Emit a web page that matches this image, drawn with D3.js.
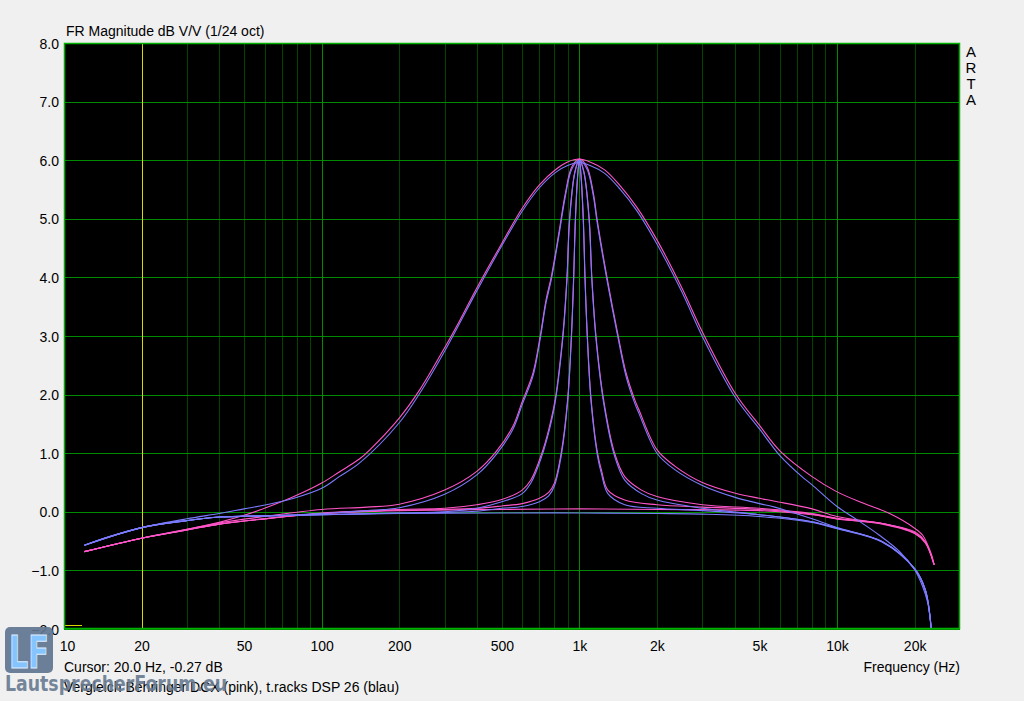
<!DOCTYPE html>
<html>
<head>
<meta charset="utf-8">
<script src="https://cdn.jsdelivr.net/npm/d3@7/dist/d3.min.js"></script>
<style>
  body { margin: 0; background: #f0f0f0; }
  svg { display: block; }
  text { font-family: "Liberation Sans", Arial, sans-serif; }
</style>
</head>
<body>
<svg id="svg"></svg>
<script>
var larghezza = 1024;
var altezza = 701;

// frequency axis
var tickFreqs = [10, 20, 50, 100, 200, 500, 1000, 2000, 5000, 10000, 20000];
var tickNames = ["10", "20", "50", "100", "200", "500", "1k", "2k", "5k", "10k", "20k"];
var dbTicks = [-2, -1, 0, 1, 2, 3, 4, 5, 6, 7, 8];

// wide peak (pink = Behringer DCX, blue = t.racks DSP 26)
var fPinkA = [12, 15, 20, 30, 40, 50, 60, 78, 100, 117, 140, 153, 200, 240, 300, 344, 400, 500, 600, 700, 814, 900, 1000, 1100, 1250, 1430, 1670, 2000, 2500, 3017, 4030, 5010, 6000, 8000, 10000, 12600, 16000, 20000, 21500, 22500, 23300, 23800];
var dbPinkA = [-0.68, -0.58, -0.45, -0.30, -0.18, -0.06, 0.06, 0.26, 0.49, 0.68, 0.90, 1.05, 1.60, 2.08, 2.80, 3.27, 3.82, 4.58, 5.18, 5.58, 5.85, 5.97, 6.02, 5.97, 5.84, 5.58, 5.20, 4.64, 3.82, 3.05, 2.02, 1.47, 1.04, 0.60, 0.34, 0.15, -0.03, -0.28, -0.40, -0.57, -0.74, -0.90];
var fBlueA = [12, 15, 20, 30, 40, 50, 61, 78, 100, 117, 140, 200, 240, 300, 400, 500, 600, 700, 814, 900, 1000, 1100, 1250, 1430, 1670, 2000, 2500, 3017, 4030, 5010, 6000, 7400, 8000, 10000, 12000, 14600, 17500, 20000, 21500, 22500, 23200];
var dbBlueA = [-0.57, -0.42, -0.27, -0.12, -0.03, 0.05, 0.12, 0.23, 0.40, 0.60, 0.83, 1.52, 2.02, 2.74, 3.77, 4.54, 5.13, 5.53, 5.80, 5.91, 5.96, 5.91, 5.78, 5.52, 5.14, 4.57, 3.75, 2.97, 1.95, 1.41, 0.96, 0.58, 0.46, 0.09, -0.14, -0.40, -0.68, -0.99, -1.28, -1.56, -2.0];

// medium peak
var fPinkB = [12, 20, 30, 40, 60, 100, 150, 200, 300, 400, 476, 551, 600, 660, 706, 742, 778, 832, 882, 935, 1000, 1070, 1134, 1170, 1279, 1412, 1520, 1641, 1703, 2000, 2345, 3000, 4000, 5000, 5730, 8000, 10000, 15000, 20000, 22000, 23800];
var dbPinkB = [-0.68, -0.45, -0.30, -0.19, -0.08, 0.04, 0.08, 0.13, 0.37, 0.69, 1.03, 1.45, 1.88, 2.36, 3.02, 3.61, 4.01, 4.75, 5.43, 5.89, 6.02, 5.89, 5.43, 5.01, 4.01, 3.02, 2.36, 1.91, 1.74, 1.06, 0.78, 0.50, 0.32, 0.23, 0.18, 0.05, -0.08, -0.20, -0.34, -0.51, -0.90];
var fBlueB = [12, 20, 30, 40, 60, 100, 150, 200, 300, 400, 476, 551, 600, 660, 706, 742, 778, 832, 882, 935, 1000, 1070, 1134, 1170, 1279, 1412, 1520, 1641, 1703, 2000, 2345, 3000, 4000, 5000, 5730, 8000, 10000, 15000, 20000, 22000, 23200];
var dbBlueB = [-0.57, -0.27, -0.15, -0.09, -0.07, -0.03, 0.02, 0.07, 0.30, 0.63, 0.98, 1.40, 1.83, 2.31, 2.97, 3.56, 3.96, 4.70, 5.38, 5.85, 6.0, 5.85, 5.38, 4.96, 3.96, 2.97, 2.30, 1.85, 1.68, 1.00, 0.72, 0.45, 0.25, 0.14, 0.08, -0.12, -0.27, -0.51, -0.97, -1.33, -2.0];

// narrow peak
var fPinkC = [12, 20, 30, 40, 60, 100, 200, 300, 400, 500, 600, 650, 715, 760, 805, 862, 895, 916, 960, 1000, 1042, 1092, 1118, 1160, 1242, 1370, 1500, 1742, 2000, 3000, 5000, 8000, 10000, 15000, 20000, 22000, 23800];
var dbPinkC = [-0.68, -0.45, -0.31, -0.21, -0.12, -0.02, 0.04, 0.06, 0.12, 0.21, 0.37, 0.55, 1.0, 1.40, 1.91, 3.0, 4.0, 5.0, 5.8, 6.02, 5.8, 5.0, 4.0, 3.0, 1.91, 1.0, 0.60, 0.37, 0.26, 0.12, 0.06, -0.03, -0.11, -0.20, -0.36, -0.52, -0.90];
var fBlueC = [12, 20, 30, 40, 60, 100, 200, 300, 400, 500, 600, 650, 715, 760, 805, 862, 895, 916, 960, 1000, 1042, 1092, 1118, 1160, 1242, 1370, 1500, 1742, 2000, 3000, 5000, 8000, 10000, 15000, 20000, 22000, 23200];
var dbBlueC = [-0.57, -0.27, -0.15, -0.09, -0.07, -0.05, -0.02, 0.0, 0.06, 0.17, 0.31, 0.50, 0.95, 1.35, 1.86, 2.95, 3.95, 4.95, 5.78, 6.0, 5.78, 4.95, 3.95, 2.95, 1.86, 0.95, 0.54, 0.31, 0.20, 0.06, -0.05, -0.17, -0.28, -0.51, -0.97, -1.33, -2.0];

// narrowest peak
var fPinkD = [12, 20, 30, 40, 60, 100, 200, 300, 400, 500, 600, 700, 760, 800, 850, 900, 931, 950, 965, 985, 1000, 1015, 1036, 1052, 1074, 1111, 1176, 1218, 1290, 1500, 2000, 3000, 5000, 8000, 10000, 15000, 20000, 22000, 23800];
var dbPinkD = [-0.68, -0.45, -0.31, -0.21, -0.12, -0.03, 0.03, 0.04, 0.06, 0.10, 0.14, 0.23, 0.33, 0.49, 1.0, 1.91, 3.0, 4.0, 5.0, 5.75, 6.02, 5.75, 5.0, 4.0, 3.0, 1.91, 1.0, 0.71, 0.37, 0.20, 0.12, 0.08, 0.04, -0.04, -0.12, -0.20, -0.36, -0.52, -0.90];
var fBlueD = [12, 20, 30, 40, 60, 100, 200, 300, 400, 500, 600, 700, 760, 800, 850, 900, 931, 950, 965, 985, 1000, 1015, 1036, 1052, 1074, 1111, 1176, 1218, 1290, 1500, 2000, 3000, 5000, 8000, 10000, 15000, 20000, 22000, 23200];
var dbBlueD = [-0.57, -0.27, -0.15, -0.09, -0.07, -0.05, -0.02, -0.01, 0.01, 0.06, 0.09, 0.17, 0.27, 0.44, 0.95, 1.86, 2.95, 3.95, 4.95, 5.72, 6.0, 5.72, 4.95, 3.95, 2.95, 1.86, 0.95, 0.65, 0.31, 0.12, 0.06, 0.02, -0.05, -0.17, -0.28, -0.51, -0.97, -1.33, -2.0];

// flat (gain 0)
var fPinkE = [12, 20, 30, 40, 60, 100, 200, 500, 1000, 2000, 5000, 8000, 10000, 15000, 20000, 22000, 23800];
var dbPinkE = [-0.68, -0.45, -0.31, -0.21, -0.12, -0.03, 0.02, 0.04, 0.05, 0.04, 0.02, -0.05, -0.12, -0.21, -0.37, -0.53, -0.90];
var fBlueE = [12, 20, 30, 40, 60, 100, 200, 500, 1000, 2000, 3000, 5000, 8000, 10000, 15000, 20000, 22000, 23200];
var dbBlueE = [-0.57, -0.27, -0.15, -0.09, -0.07, -0.05, -0.03, -0.02, -0.02, -0.03, -0.04, -0.08, -0.18, -0.29, -0.52, -0.98, -1.34, -2.0];

var cursorFreq = 20;

var pinkCol = "#ff55c8";
var blueCol = "#7b7bff";

var pLeft = 64, pRight = 960, pTop = 43, pBottom = 629;

var svg = d3.select("#svg").attr("width", larghezza).attr("height", altezza);

var x = d3.scaleLog().domain([10, 30000]).range([pLeft, pRight]);
var y = d3.scaleLinear().domain([-2, 8]).range([pBottom, pTop]);

svg.append("rect")
    .attr("x", pLeft).attr("y", pTop)
    .attr("width", pRight - pLeft).attr("height", pBottom - pTop)
    .style("fill", "black");

svg.append("clipPath").attr("id", "clip")
    .append("rect")
    .attr("x", pLeft).attr("y", pTop)
    .attr("width", pRight - pLeft).attr("height", pBottom - pTop);

// vertical grid
var minorFreqs = [];
[10, 100, 1000, 10000].forEach(function (dec) {
    for (var k = 2; k <= 9; k++) {
        if (dec * k < 30000) minorFreqs.push(dec * k);
    }
});
var grid = svg.append("g").attr("shape-rendering", "crispEdges");
minorFreqs.forEach(function (f) {
    grid.append("line")
        .attr("x1", Math.round(x(f)) + 0.5).attr("x2", Math.round(x(f)) + 0.5)
        .attr("y1", pTop).attr("y2", pBottom)
        .style("stroke", "#004400").style("stroke-width", 1);
});
[100, 1000, 10000].forEach(function (f) {
    grid.append("line")
        .attr("x1", Math.round(x(f)) + 0.5).attr("x2", Math.round(x(f)) + 0.5)
        .attr("y1", pTop).attr("y2", pBottom)
        .style("stroke", "#008a00").style("stroke-width", 1);
});
dbTicks.forEach(function (d) {
    grid.append("line")
        .attr("x1", pLeft).attr("x2", pRight)
        .attr("y1", Math.round(y(d)) + 0.5).attr("y2", Math.round(y(d)) + 0.5)
        .style("stroke", "#008a00").style("stroke-width", 1);
});

// cursor
grid.append("line")
    .attr("x1", Math.round(x(cursorFreq)) + 0.5).attr("x2", Math.round(x(cursorFreq)) + 0.5)
    .attr("y1", pTop).attr("y2", pBottom)
    .style("stroke", "#d8d800").style("stroke-width", 1);
grid.append("line")
    .attr("x1", pLeft + 1).attr("x2", pLeft + 18)
    .attr("y1", pBottom - 3.5).attr("y2", pBottom - 3.5)
    .style("stroke", "#d8d800").style("stroke-width", 1.5);

// curves
var line = d3.line()
    .x(function (d) { return x(d[0]); })
    .y(function (d) { return y(d[1]); })
    .curve(d3.curveCatmullRom.alpha(0.5));

var curves = [
    [fPinkE, dbPinkE, pinkCol], [fPinkD, dbPinkD, pinkCol], [fPinkC, dbPinkC, pinkCol],
    [fPinkB, dbPinkB, pinkCol], [fPinkA, dbPinkA, pinkCol],
    [fBlueE, dbBlueE, blueCol], [fBlueD, dbBlueD, blueCol], [fBlueC, dbBlueC, blueCol],
    [fBlueB, dbBlueB, blueCol], [fBlueA, dbBlueA, blueCol]
];
var plot = svg.append("g").attr("clip-path", "url(#clip)");
curves.forEach(function (c) {
    var pts = c[0].map(function (f, i) { return [f, c[1][i]]; });
    plot.append("path")
        .attr("d", line(pts))
        .style("fill", "none")
        .style("stroke", c[2])
        .style("stroke-width", 1.1);
});

// frame
svg.append("rect")
    .attr("x", pLeft + 0.5).attr("y", pTop + 0.5)
    .attr("width", pRight - pLeft - 1).attr("height", pBottom - pTop - 1)
    .style("fill", "none").style("stroke", "#00b000").style("stroke-width", 1.5);

// axes
var yAxis = d3.axisLeft(y).tickValues(dbTicks).tickSize(0).tickPadding(4)
    .tickFormat(d3.format(".1f"));
var gy = svg.append("g").attr("transform", "translate(" + (pLeft - 1) + ",0)").call(yAxis);
gy.select(".domain").remove();
gy.selectAll("text").style("font-size", "14px").style("fill", "#000")
    .style("font-family", "'Liberation Sans', Arial, sans-serif").attr("dy", "0.36em");

var xAxis = d3.axisBottom(x).tickValues(tickFreqs).tickSize(0).tickPadding(12)
    .tickFormat(function (d, i) { return tickNames[i]; });
var gx = svg.append("g").attr("transform", "translate(0," + pBottom + ")").call(xAxis);
gx.select(".domain").remove();
gx.selectAll("text").style("font-size", "14px").style("fill", "#000")
    .style("font-family", "'Liberation Sans', Arial, sans-serif");
gx.selectAll(".tick").filter(function (d) { return d === 10; })
    .select("text").attr("x", 3);

// texts
svg.append("text").attr("x", 66).attr("y", 36).style("font-size", "14px")
    .text("FR Magnitude dB V/V (1/24 oct)");
svg.append("text").attr("x", 960).attr("y", 672).style("font-size", "14px")
    .attr("text-anchor", "end").text("Frequency (Hz)");
svg.append("text").attr("x", 64).attr("y", 672).style("font-size", "14px")
    .text("Cursor: 20.0 Hz, -0.27 dB");
svg.append("text").attr("x", 64).attr("y", 692).style("font-size", "14px")
    .text("Vergleich Behringer DCX (pink), t.racks DSP 26 (blau)");
["A", "R", "T", "A"].forEach(function (ch, i) {
    svg.append("text").attr("x", 971).attr("y", 57 + i * 16)
        .attr("text-anchor", "middle").style("font-size", "15px").text(ch);
});

// watermark
var logo = svg.append("g");
logo.append("rect").attr("x", 5).attr("y", 627).attr("width", 48).attr("height", 46).attr("rx", 5)
    .style("fill", "#5f7591").style("opacity", 0.92);
logo.append("text").attr("x", 9).attr("y", 668)
    .attr("textLength", 40).attr("lengthAdjust", "spacingAndGlyphs")
    .style("font-size", "44px").style("font-weight", "bold")
    .style("font-family", "'DejaVu Sans', sans-serif")
    .style("fill", "#86c4ff").style("stroke", "#dcecff").style("stroke-width", 1)
    .text("LF");
logo.append("text").attr("x", 5).attr("y", 691)
    .attr("textLength", 222).attr("lengthAdjust", "spacingAndGlyphs")
    .style("font-size", "21px").style("font-weight", "bold")
    .style("font-family", "'DejaVu Sans', sans-serif")
    .style("fill", "#687a90").style("opacity", 0.9)
    .text("LautsprecherForum.eu");
</script>
</body>
</html>
